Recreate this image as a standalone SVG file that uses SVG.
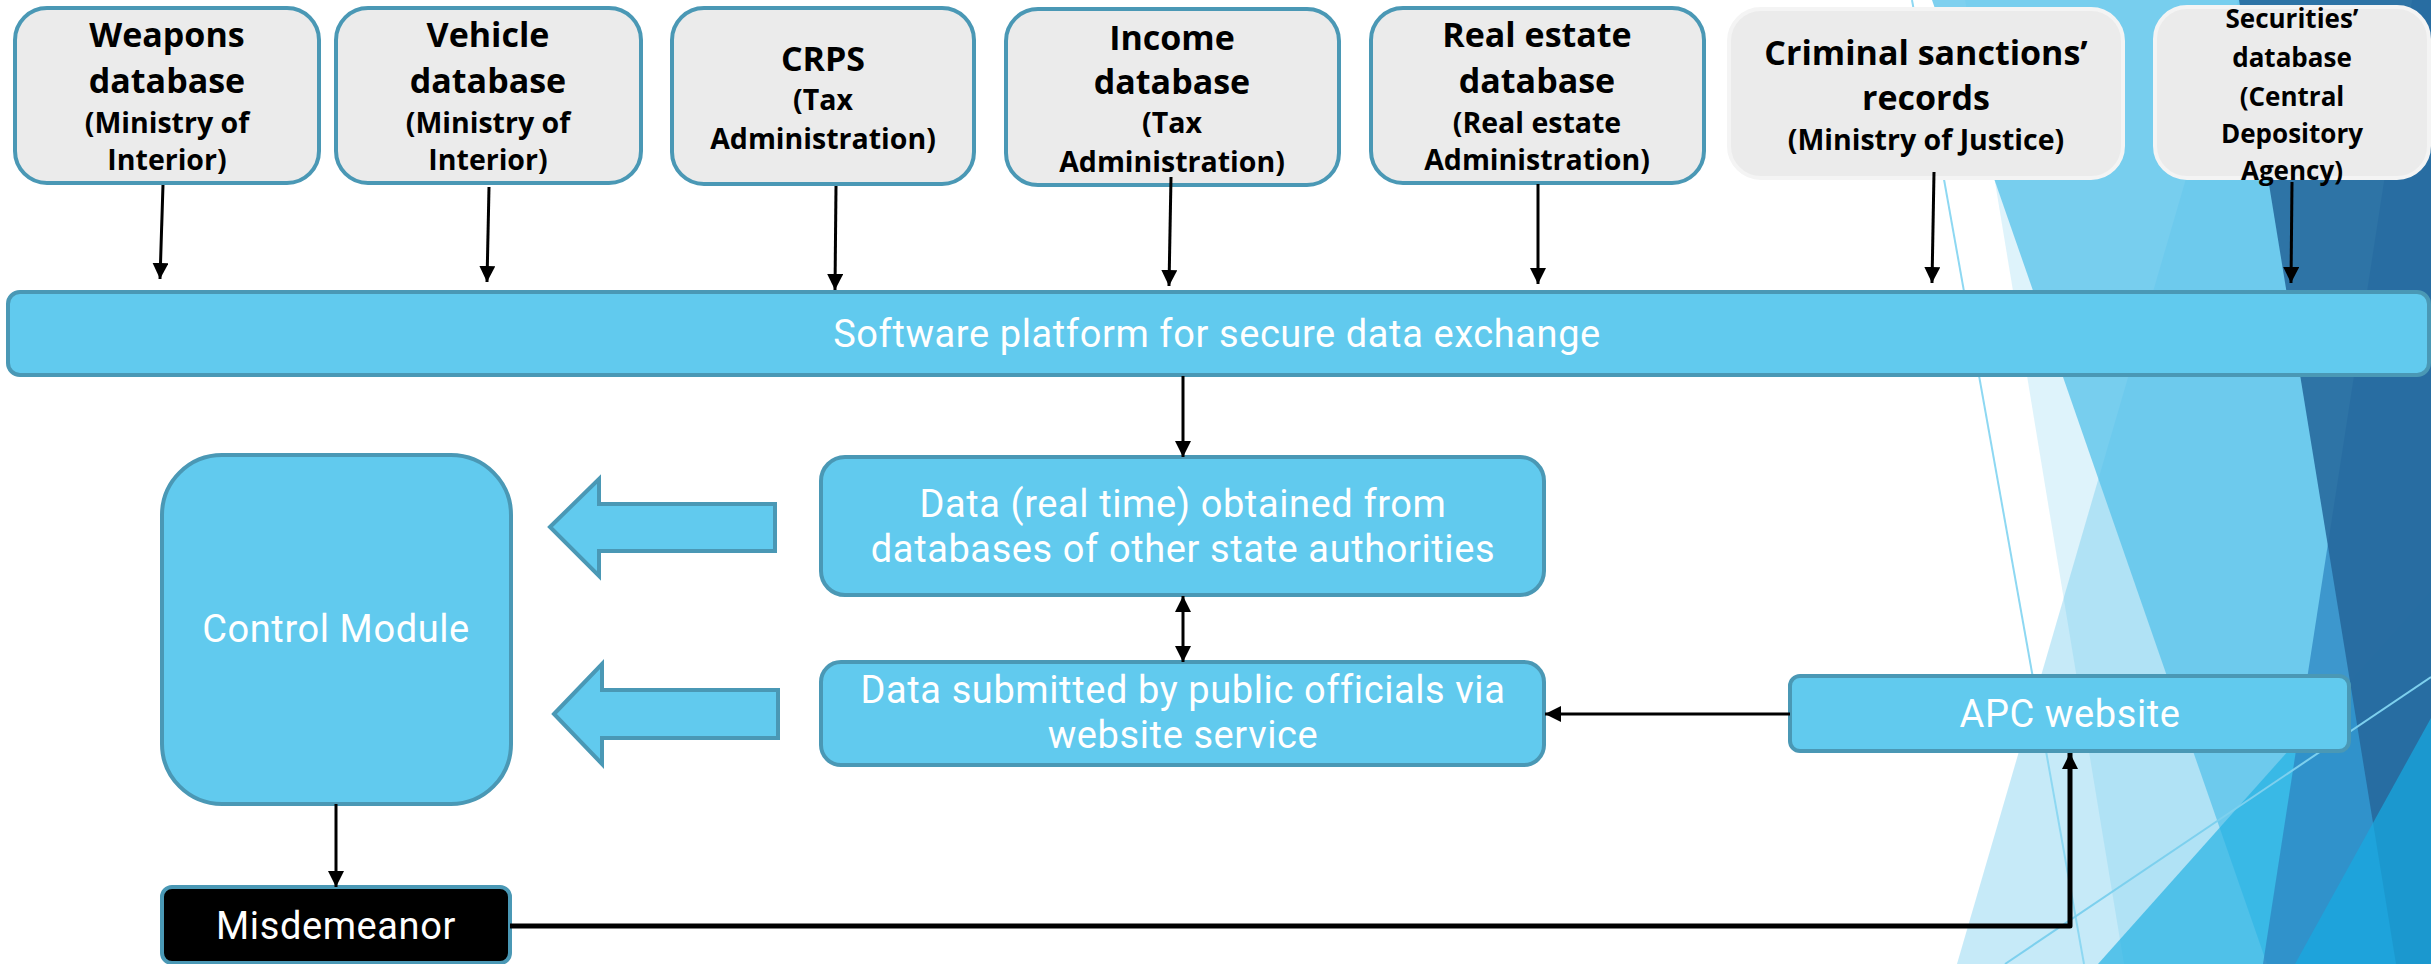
<svg xmlns="http://www.w3.org/2000/svg" width="2431" height="964" viewBox="0 0 2431 964">
  <style>
    .src { fill: #EBEBEB; stroke: #4A98B5; stroke-width: 4; }
    .src-light { fill: #EBEBEB; stroke: #F4F4F4; stroke-width: 4; }
    .blue { fill: #61CAEE; stroke: #4A98B5; stroke-width: 4; }
    .dark { fill: #000000; stroke: #4A98B5; stroke-width: 4; }
    .t-title { font-family: "Open Sans", "Liberation Sans", sans-serif; font-weight: bold; font-size: 34px; fill: #000; text-anchor: middle; }
    .t-sub { font-family: "Open Sans", "Liberation Sans", sans-serif; font-weight: bold; font-size: 28.5px; fill: #000; text-anchor: middle; }
    .t-small { font-family: "Open Sans", "Liberation Sans", sans-serif; font-weight: bold; font-size: 26px; fill: #000; text-anchor: middle; }
    .t-white { font-family: Roboto, "Liberation Sans", sans-serif; font-size: 38px; letter-spacing: 0.6px; fill: #FFFFFF; text-anchor: middle; }
    .conn { stroke: #000; stroke-width: 3; fill: none; }
    .conn-heavy { stroke: #000; stroke-width: 5; fill: none; stroke-linejoin: round; }
    .facet { stroke: none; }
  </style>
  <defs>
    <marker id="ah" markerUnits="userSpaceOnUse" markerWidth="18" markerHeight="18" refX="16" refY="8" orient="auto-start-reverse">
      <path d="M0,0 L16,8 L0,16 z" fill="#000"/>
    </marker>
  </defs>

  <rect x="0" y="0" width="2431" height="964" fill="#FFFFFF"/>

  <!-- decorative facets on the right edge -->
  <g id="facets">
    <polygon class="facet" points="1965,0 2431,0 2431,964 2124,964" fill="#5BC4EB" fill-opacity="0.2"/>
    <polygon class="facet" points="2238,0 2431,0 2431,964 1957,964" fill="#5BC4EB" fill-opacity="0.35"/>
    <polygon class="facet" points="1932,0 2431,0 2431,964 2267,964" fill="#5BC4EB" fill-opacity="0.79"/>
    <polygon class="facet" points="2431,591 2431,964 2098,964" fill="#1FB0E3" fill-opacity="0.67"/>
    <polygon class="facet" points="2412,0 2431,0 2431,964 2263,964" fill="#2E86C1" fill-opacity="0.75"/>
    <polygon class="facet" points="2239,0 2431,0 2431,964 2396,964" fill="#26689C" fill-opacity="0.88"/>
    <polygon class="facet" points="2431,718 2431,964 2295,964" fill="#16AAE1" fill-opacity="0.71"/>
    <line x1="1912" y1="0" x2="2084" y2="964" stroke="#8ED8F2" stroke-width="2"/>
    <line x1="2005" y1="964" x2="2431" y2="677" stroke="#7DD0EE" stroke-width="2"/>
  </g>

  <!-- source registers -->
  <g id="weapons">
    <rect class="src" x="15" y="8" width="304" height="175" rx="32"/>
    <text class="t-title" x="167" y="47">Weapons</text>
    <text class="t-title" x="167" y="93">database</text>
    <text class="t-sub" x="167" y="133">(Ministry of</text>
    <text class="t-sub" x="167" y="170">Interior)</text>
  </g>
  <g id="vehicle">
    <rect class="src" x="336" y="8" width="305" height="175" rx="32"/>
    <text class="t-title" x="488" y="47">Vehicle</text>
    <text class="t-title" x="488" y="93">database</text>
    <text class="t-sub" x="488" y="133">(Ministry of</text>
    <text class="t-sub" x="488" y="170">Interior)</text>
  </g>
  <g id="crps">
    <rect class="src" x="672" y="8" width="302" height="176" rx="32"/>
    <text class="t-title" x="823" y="71">CRPS</text>
    <text class="t-sub" x="823" y="110">(Tax</text>
    <text class="t-sub" x="823" y="149">Administration)</text>
  </g>
  <g id="income">
    <rect class="src" x="1006" y="9" width="333" height="176" rx="32"/>
    <text class="t-title" x="1172" y="50">Income</text>
    <text class="t-title" x="1172" y="94">database</text>
    <text class="t-sub" x="1172" y="133">(Tax</text>
    <text class="t-sub" x="1172" y="172">Administration)</text>
  </g>
  <g id="realestate">
    <rect class="src" x="1371" y="8" width="333" height="175" rx="32"/>
    <text class="t-title" x="1537" y="47">Real estate</text>
    <text class="t-title" x="1537" y="93">database</text>
    <text class="t-sub" x="1537" y="133">(Real estate</text>
    <text class="t-sub" x="1537" y="170">Administration)</text>
  </g>
  <g id="criminal">
    <rect class="src-light" x="1729" y="9" width="394" height="169" rx="32"/>
    <text class="t-title" x="1926" y="65">Criminal sanctions’</text>
    <text class="t-title" x="1926" y="110">records</text>
    <text class="t-sub" x="1926" y="150">(Ministry of Justice)</text>
  </g>
  <g id="securities">
    <rect class="src-light" x="2155" y="7" width="274" height="171" rx="32"/>
    <text class="t-small" x="2292" y="28">Securities’</text>
    <text class="t-small" x="2292" y="67">database</text>
    <text class="t-small" x="2292" y="106">(Central</text>
    <text class="t-small" x="2292" y="143">Depository</text>
    <text class="t-small" x="2292" y="180">Agency)</text>
  </g>

  <!-- exchange platform -->
  <g id="platform">
    <rect class="blue" x="8" y="292" width="2421" height="83" rx="12"/>
    <text class="t-white" x="1217" y="347">Software platform for secure data exchange</text>
  </g>

  <g id="control-module">
    <rect class="blue" x="162" y="455" width="349" height="349" rx="60"/>
    <text class="t-white" x="336" y="642">Control Module</text>
  </g>

  <g id="data-realtime">
    <rect class="blue" x="821" y="457" width="723" height="138" rx="24"/>
    <text class="t-white" x="1183" y="517">Data (real time) obtained from</text>
    <text class="t-white" x="1183" y="562">databases of other state authorities</text>
  </g>

  <g id="data-submitted">
    <rect class="blue" x="821" y="662" width="723" height="103" rx="20"/>
    <text class="t-white" x="1183" y="703">Data submitted by public officials via</text>
    <text class="t-white" x="1183" y="748">website service</text>
  </g>

  <g id="apc-website">
    <rect class="blue" x="1790" y="676" width="559" height="75" rx="10"/>
    <text class="t-white" x="2070" y="727">APC website</text>
  </g>

  <g id="misdemeanor">
    <rect class="dark" x="162" y="887" width="348" height="76" rx="10"/>
    <text class="t-white" x="336" y="939">Misdemeanor</text>
  </g>

  <!-- flows into the control module -->
  <g id="block-arrows">
    <polygon class="blue" stroke-width="3" points="550,527 599,479 599,504 775,504 775,551 599,551 599,576"/>
    <polygon class="blue" stroke-width="3" points="554,714 602,664 602,690 778,690 778,738 602,738 602,764"/>
  </g>

  <g id="connectors">
    <line class="conn" x1="163" y1="185" x2="160" y2="279" marker-end="url(#ah)"/>
    <line class="conn" x1="489" y1="187" x2="487" y2="282" marker-end="url(#ah)"/>
    <line class="conn" x1="836" y1="186" x2="835" y2="290" marker-end="url(#ah)"/>
    <line class="conn" x1="1171" y1="177" x2="1169" y2="286" marker-end="url(#ah)"/>
    <line class="conn" x1="1538" y1="184" x2="1538" y2="284" marker-end="url(#ah)"/>
    <line class="conn" x1="1934" y1="172" x2="1932" y2="283" marker-end="url(#ah)"/>
    <line class="conn" x1="2292" y1="182" x2="2291" y2="283" marker-end="url(#ah)"/>
    <line class="conn" x1="1183" y1="376" x2="1183" y2="457" marker-end="url(#ah)"/>
    <line class="conn" x1="1183" y1="596" x2="1183" y2="662" marker-start="url(#ah)" marker-end="url(#ah)"/>
    <line class="conn" x1="1790" y1="714" x2="1545" y2="714" marker-end="url(#ah)"/>
    <line class="conn" x1="336" y1="804" x2="336" y2="887" marker-end="url(#ah)"/>
    <polyline class="conn-heavy" points="510,926 2070,926 2070,753" marker-end="url(#ah)"/>
  </g>
</svg>
